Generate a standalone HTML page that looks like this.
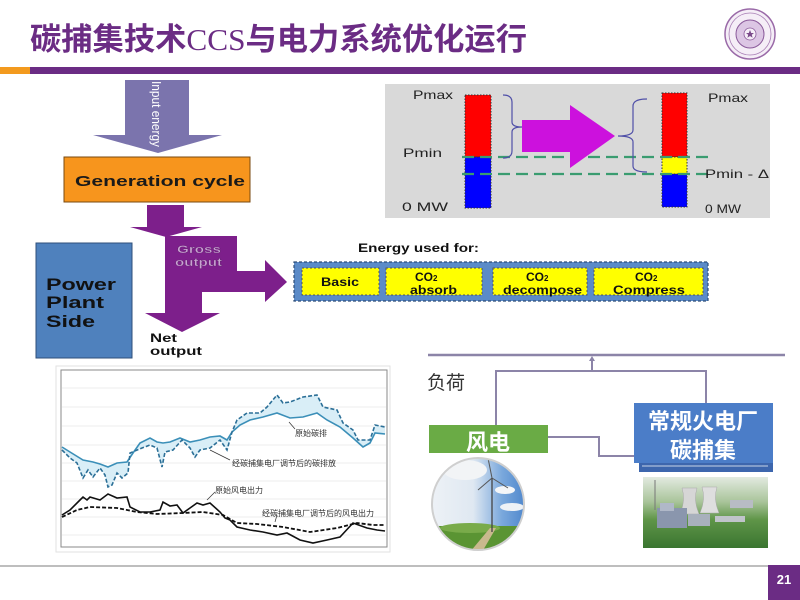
<!DOCTYPE html>
<html><head><meta charset="utf-8">
<style>
html,body{margin:0;padding:0;background:#fff;}
svg{display:block;}
</style></head><body>
<svg width="800" height="600" viewBox="0 0 800 600" xmlns="http://www.w3.org/2000/svg" font-family="'Liberation Sans', Arial, sans-serif">
<defs>
  <linearGradient id="sky" x1="0" y1="0" x2="1" y2="0">
    <stop offset="0" stop-color="#eef2f6"/>
    <stop offset="0.45" stop-color="#dfe8f2"/>
    <stop offset="0.75" stop-color="#7aa8dc"/>
    <stop offset="1" stop-color="#4d86cc"/>
  </linearGradient>
  <linearGradient id="field" x1="0" y1="0" x2="0" y2="1">
    <stop offset="0" stop-color="#e2eae0"/>
    <stop offset="0.35" stop-color="#a9c49a"/>
    <stop offset="0.6" stop-color="#5f9548"/>
    <stop offset="1" stop-color="#3a7530"/>
  </linearGradient>
  <clipPath id="cc"><circle cx="478" cy="504" r="46"/></clipPath>
</defs>
<rect width="800" height="600" fill="#fff"/>

<!-- Title -->
<text x="30" y="50" font-size="31" font-weight="bold" fill="#6b2c84" font-family="'Liberation Sans','Noto Sans CJK SC',sans-serif" textLength="497" lengthAdjust="spacingAndGlyphs">碳捕集技术<tspan font-family="'Liberation Serif',serif" font-weight="normal">CCS</tspan>与电力系统优化运行</text>

<!-- Logo -->
<circle cx="750" cy="34" r="25" fill="#f5eef7" stroke="#9a6aa8" stroke-width="1.5"/>
<circle cx="750" cy="34" r="21" fill="none" stroke="#a77db4" stroke-width="0.8"/>
<circle cx="750" cy="34" r="14" fill="#dcc6e4" stroke="#8a5a9a" stroke-width="1"/>
<circle cx="750" cy="34" r="6" fill="#f5eef7" stroke="#8a5a9a" stroke-width="0.8"/>
<polygon points="750,30 751.2,33 754,33 751.8,34.8 752.6,37.8 750,36 747.4,37.8 748.2,34.8 746,33 748.8,33" fill="#7a4a8a"/>

<!-- top bar -->
<rect x="0" y="67" width="30" height="7" fill="#f39a1e"/>
<rect x="30" y="67" width="770" height="7" fill="#6b2c84"/>

<!-- Input energy arrow -->
<polygon points="125,80 189,80 189,135 222,135 158,153 93,135 125,135" fill="#7b74ad"/>
<text transform="translate(152,81) rotate(90)" font-size="13" fill="#fff" textLength="66" lengthAdjust="spacingAndGlyphs">Input energy</text>

<!-- Generation cycle -->
<rect x="64" y="157" width="186" height="45" fill="#f7951d" stroke="#7a4a10" stroke-width="1"/>
<text x="75" y="186" font-size="15" font-weight="bold" fill="#1a1a1a" textLength="170" lengthAdjust="spacingAndGlyphs">Generation cycle</text>

<!-- purple arrows -->
<rect x="147" y="205" width="37" height="23" fill="#7d1f8b"/>
<polygon points="130,227 202,227 166,237" fill="#7d1f8b"/>
<polygon points="165,236 237,236 237,271 265,271 265,260 287,282 265,302 265,292 202,292 202,313 220,313 182,332 145,313 165,313" fill="#7d1f8b"/>
<text x="177" y="253" font-size="11" font-weight="bold" fill="#c9a3d2" stroke="#5a1a66" stroke-width="0.3" textLength="44" lengthAdjust="spacingAndGlyphs">Gross</text>
<text x="175" y="266" font-size="11" font-weight="bold" fill="#c9a3d2" stroke="#5a1a66" stroke-width="0.3" textLength="47" lengthAdjust="spacingAndGlyphs">output</text>
<text x="150" y="342" font-size="12" font-weight="bold" fill="#111" textLength="27" lengthAdjust="spacingAndGlyphs">Net</text>
<text x="150" y="355" font-size="12" font-weight="bold" fill="#111" textLength="52" lengthAdjust="spacingAndGlyphs">output</text>

<!-- Power Plant Side -->
<rect x="36" y="243" width="96" height="115" fill="#4f81bd" stroke="#2f4f7a" stroke-width="1"/>
<text x="46" y="290" font-size="17" font-weight="bold" fill="#111" textLength="70" lengthAdjust="spacingAndGlyphs">Power</text>
<text x="46" y="308" font-size="17" font-weight="bold" fill="#111" textLength="58" lengthAdjust="spacingAndGlyphs">Plant</text>
<text x="46" y="327" font-size="17" font-weight="bold" fill="#111" textLength="49" lengthAdjust="spacingAndGlyphs">Side</text>

<!-- Energy used for -->
<text x="358" y="252" font-size="12" font-weight="bold" fill="#111" textLength="121" lengthAdjust="spacingAndGlyphs">Energy used for:</text>
<rect x="294" y="262" width="414" height="39" fill="#5b8bc8" stroke="#2d4e78" stroke-width="1.2" stroke-dasharray="3 2"/>
<g fill="#ffff00" stroke="#555" stroke-width="1" stroke-dasharray="2 2">
  <rect x="302" y="268" width="77" height="27"/>
  <rect x="386" y="268" width="96" height="27"/>
  <rect x="493" y="268" width="94" height="27"/>
  <rect x="594" y="268" width="109" height="27"/>
</g>
<g font-size="12" font-weight="bold" fill="#111">
  <text x="321" y="286" textLength="38" lengthAdjust="spacingAndGlyphs">Basic</text>
  <text x="415" y="281">CO<tspan font-size="8">2</tspan></text>
  <text x="410" y="294" textLength="47" lengthAdjust="spacingAndGlyphs">absorb</text>
  <text x="526" y="281">CO<tspan font-size="8">2</tspan></text>
  <text x="503" y="294" textLength="79" lengthAdjust="spacingAndGlyphs">decompose</text>
  <text x="635" y="281">CO<tspan font-size="8">2</tspan></text>
  <text x="613" y="294" textLength="72" lengthAdjust="spacingAndGlyphs">Compress</text>
</g>

<!-- Top right Pmax/Pmin chart -->
<rect x="385" y="84" width="385" height="134" fill="#d9d9d9"/>
<g stroke="#333" stroke-width="1" stroke-dasharray="1.5 1.5">
  <rect x="465" y="95" width="26" height="62" fill="#ff0000"/>
  <rect x="465" y="157" width="26" height="51" fill="#0000ff"/>
  <rect x="662" y="93" width="25" height="64" fill="#ff0000"/>
  <rect x="662" y="157" width="25" height="17" fill="#ffff00"/>
  <rect x="662" y="174" width="25" height="33" fill="#0000ff"/>
</g>
<g stroke="#3a9c70" stroke-width="2.2" stroke-dasharray="12 6">
  <line x1="462" y1="157" x2="708" y2="157"/>
  <line x1="462" y1="174" x2="708" y2="174"/>
</g>
<path d="M503,95 Q512,95 512,102 L512,122 Q512,127 522,127 Q512,127 512,132 L512,151 Q512,158 503,158" fill="none" stroke="#5050a8" stroke-width="1.2"/>
<path d="M647,99 Q633,99 633,106 L633,130 Q633,136 618,136 Q633,136 633,142 L633,166 Q633,172 647,172" fill="none" stroke="#5050a8" stroke-width="1.2"/>
<polygon points="522,120 570,120 570,105 615,136 570,168 570,152 522,152" fill="#cc11dd"/>
<g font-size="12" fill="#222">
  <text x="413" y="99" textLength="40" lengthAdjust="spacingAndGlyphs">Pmax</text>
  <text x="403" y="157" textLength="39" lengthAdjust="spacingAndGlyphs">Pmin</text>
  <text x="402" y="211" textLength="46" lengthAdjust="spacingAndGlyphs">0 MW</text>
  <text x="708" y="102" textLength="40" lengthAdjust="spacingAndGlyphs">Pmax</text>
  <text x="705" y="178" textLength="64" lengthAdjust="spacingAndGlyphs">Pmin - Δ</text>
  <text x="705" y="213" textLength="36" lengthAdjust="spacingAndGlyphs">0 MW</text>
</g>

<!-- Bottom-left chart -->
<rect x="56" y="366" width="334" height="186" fill="#fff" stroke="#e2e2e2" stroke-width="1"/>
<rect x="61" y="370" width="326" height="177" fill="#fff" stroke="#8a8a8a" stroke-width="1"/>
<g stroke="#ececec" stroke-width="1">
  <line x1="62" y1="388" x2="386" y2="388"/>
  <line x1="62" y1="407" x2="386" y2="407"/>
  <line x1="62" y1="426" x2="386" y2="426"/>
  <line x1="62" y1="445" x2="386" y2="445"/>
  <line x1="62" y1="463" x2="386" y2="463"/>
  <line x1="62" y1="481" x2="386" y2="481"/>
  <line x1="62" y1="499" x2="386" y2="499"/>
  <line x1="62" y1="517" x2="386" y2="517"/>
  <line x1="62" y1="535" x2="386" y2="535"/>
</g>
<polygon fill="#d9eef7" points="62,450 70,458 77,463 83,478 88,470 93,477 100,468 105,475 108,487 112,485 117,473 122,478 128,473 130,453 142,448 150,445 157,448 162,467 165,452 173,450 182,440 190,448 195,457 200,450 210,448 220,440 227,450 232,432 237,420 247,413 260,413 267,407 277,395 283,403 290,402 303,397 317,395 323,407 337,410 343,423 353,430 358,440 370,440 375,425 385,427 385,434 375,433 370,443 363,447 353,438 340,427 327,420 317,413 303,417 290,418 277,413 263,417 250,420 240,425 232,432 227,440 220,436 210,437 200,440 190,442 180,438 170,442 163,443 157,442 150,438 140,443 133,453 127,462 117,463 108,467 100,464 93,462 83,460 70,452 62,447"/>
<polyline fill="none" stroke="#3b8fb8" stroke-width="1.6" points="62,447 70,452 83,460 93,462 100,464 108,467 117,463 127,462 133,453 140,443 150,438 157,442 163,443 170,442 180,438 190,442 200,440 210,437 220,436 227,440 232,432 240,425 250,420 263,417 277,413 290,418 303,417 317,413 327,420 340,427 353,438 363,447 370,443 375,433 385,434"/>
<polyline fill="none" stroke="#2b6f97" stroke-width="1.6" stroke-dasharray="4 2" points="62,450 70,458 77,463 83,478 88,470 93,477 100,468 105,475 108,487 112,485 117,473 122,478 128,473 130,453 142,448 150,445 157,448 162,467 165,452 173,450 182,440 190,448 195,457 200,450 210,448 220,440 227,450 232,432 237,420 247,413 260,413 267,407 277,395 283,403 290,402 303,397 317,395 323,407 337,410 343,423 353,430 358,440 370,440 375,425 385,427"/>
<polyline fill="none" stroke="#111" stroke-width="1.6" points="62,515 70,510 80,500 83,497 87,500 90,497 100,500 108,494 117,498 127,497 130,507 140,512 150,512 160,510 163,502 170,506 177,505 183,513 190,508 197,503 203,505 210,503 220,512 225,518 230,520 237,527 250,530 263,532 277,535 287,533 300,540 313,543 327,540 340,537 353,523 367,528 377,530 385,531"/>
<polyline fill="none" stroke="#111" stroke-width="1.8" stroke-dasharray="4 2" points="62,517 77,510 90,507 117,508 137,512 157,514 183,513 203,512 223,515 237,523 257,524 283,527 310,532 337,528 357,523 373,525 385,525"/>
<g stroke="#333" stroke-width="0.7">
  <line x1="289" y1="422" x2="295" y2="429"/>
  <line x1="210" y1="450" x2="230" y2="460"/>
  <line x1="215" y1="492" x2="207" y2="500"/>
  <line x1="277" y1="515" x2="275" y2="522"/>
</g>
<g font-size="8" fill="#333" font-family="'Liberation Sans','Noto Sans CJK SC',sans-serif">
  <text x="295" y="436">原始碳排</text>
  <text x="232" y="466">经碳捕集电厂调节后的碳排放</text>
  <text x="215" y="493">原始风电出力</text>
  <text x="262" y="516">经碳捕集电厂调节后的风电出力</text>
</g>

<!-- Bottom-right diagram -->
<line x1="428" y1="355" x2="785" y2="355" stroke="#8c84a8" stroke-width="2.5"/>
<g fill="none" stroke="#8c84a8" stroke-width="2">
  <polyline points="496,425 496,371 706,371 706,403"/>
  <line x1="592" y1="371" x2="592" y2="359"/>
  <polyline points="548,437 599,437 599,456 634,456"/>
</g>
<polygon points="589,361 595,361 592,356" fill="#8c84a8"/>
<text x="427" y="389" font-size="19" fill="#333" font-family="'Liberation Sans','Noto Sans CJK SC',sans-serif">负荷</text>

<rect x="429" y="425" width="119" height="28" fill="#6aab45"/>
<text x="488" y="450" font-size="22" font-weight="bold" fill="#fff" text-anchor="middle" font-family="'Liberation Sans','Noto Sans CJK SC',sans-serif">风电</text>

<rect x="639" y="410" width="134" height="62" fill="#3d66ad"/>
<rect x="634" y="403" width="139" height="60" fill="#4b7dc8"/>
<line x1="642" y1="466" x2="768" y2="466" stroke="#c8d4e8" stroke-width="1"/>
<text x="703" y="429" font-size="22" font-weight="bold" fill="#fff" text-anchor="middle" font-family="'Liberation Sans','Noto Sans CJK SC',sans-serif">常规火电厂</text>
<text x="703" y="458" font-size="22" font-weight="bold" fill="#fff" text-anchor="middle" font-family="'Liberation Sans','Noto Sans CJK SC',sans-serif">碳捕集</text>

<!-- wind circle -->
<g clip-path="url(#cc)">
  <rect x="430" y="456" width="96" height="96" fill="url(#sky)"/>
  <ellipse cx="505" cy="490" rx="10" ry="4" fill="#f4f6f8"/>
  <ellipse cx="512" cy="507" rx="12" ry="4" fill="#eef2f6"/>
  <ellipse cx="465" cy="470" rx="22" ry="10" fill="#f2f4f6"/>
  <rect x="430" y="526" width="96" height="30" fill="#5a9433"/>
  <ellipse cx="470" cy="528" rx="30" ry="5" fill="#79ab4a"/>
  <polygon points="470,552 482,552 496,528 490,528" fill="#c9b98e"/>
  <line x1="492" y1="478" x2="492" y2="532" stroke="#444" stroke-width="1.3"/>
  <line x1="492" y1="478" x2="488" y2="458" stroke="#555" stroke-width="1"/>
  <line x1="492" y1="478" x2="508" y2="488" stroke="#555" stroke-width="1"/>
  <line x1="492" y1="478" x2="478" y2="490" stroke="#555" stroke-width="1"/>
</g>
<circle cx="478" cy="504" r="46" fill="none" stroke="#cfcfcf" stroke-width="2"/>

<!-- power plant -->
<rect x="643" y="477" width="125" height="71" fill="url(#field)"/>
<path d="M682,488 L697,488 Q693,500 699,514 L680,514 Q686,500 682,488 Z" fill="#d6d6d6" stroke="#aaa" stroke-width="0.5"/>
<path d="M702,487 L717,487 Q713,499 719,513 L700,513 Q706,499 702,487 Z" fill="#dedede" stroke="#aaa" stroke-width="0.5"/>
<rect x="657" y="508" width="30" height="20" fill="#8a96ad"/>
<rect x="660" y="503" width="14" height="8" fill="#b0b8c8"/>
<rect x="688" y="514" width="22" height="12" fill="#a8b0bc"/>
<rect x="730" y="500" width="23" height="8" fill="#b8bcc4"/>
<rect x="715" y="516" width="30" height="6" fill="#c0c4ca"/>
<line x1="655" y1="480" x2="655" y2="510" stroke="#777" stroke-width="1"/>

<!-- bottom -->
<line x1="0" y1="566" x2="768" y2="566" stroke="#a8a8a8" stroke-width="1.5"/>
<rect x="768" y="565" width="32" height="35" fill="#6b2c84"/>
<text x="784" y="584" font-size="13" font-weight="bold" fill="#fff" text-anchor="middle">21</text>
</svg>
</body></html>
